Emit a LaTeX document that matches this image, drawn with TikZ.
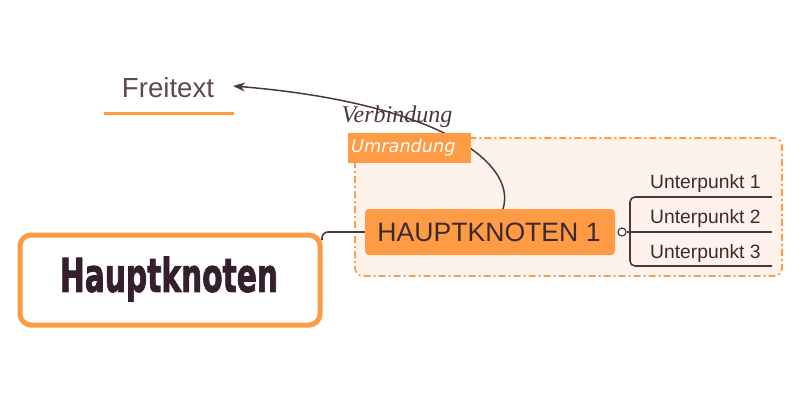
\documentclass[tikz,border=0pt]{standalone}
\usepackage{fontspec}
\setmainfont{Liberation Sans}
\newfontfamily\verbfont{Liberation Serif}
\newfontfamily\umrfont{DejaVu Sans}
\newfontfamily\bigfont{DejaVu Sans}[BoldFeatures={FakeBold=2}]
\usetikzlibrary{arrows.meta}
\definecolor{orng}{HTML}{FF9A45}
\definecolor{lightbg}{HTML}{FEF3EA}
\definecolor{txt}{HTML}{3B2A30}
\definecolor{hktxt}{HTML}{33202C}
\definecolor{txtb}{HTML}{5B4A50}
\definecolor{lin}{HTML}{4A3840}
\tikzset{
  subtxt/.style={font=\fontsize{19.3}{21}\selectfont, text=txt, inner sep=0pt},
  branch/.style={draw=lin, line width=1.6pt},
}
\begin{document}
\begin{tikzpicture}[x=1pt,y=-1pt]
\useasboundingbox (0,0) rectangle (800,400);
% Umrandung boundary
\draw[orng, line width=1.6pt, fill=lightbg, rounded corners=8pt, dash pattern=on 7pt off 3pt on 2pt off 3pt] (355,138) rectangle (782,276);
\coordinate (arrEnd) at (233,86);
% Hauptknoten 1
\node[fill=orng, rounded corners=4pt, minimum width=250pt, minimum height=46pt, inner sep=0pt] (hk1) at (490,232) {};
\node[text=txt, font=\fontsize{26.6}{30}\selectfont, inner sep=0pt] (hk1t) at (489,232) {HAUPTKNOTEN 1};
% Verbindung connector (under label)
\draw[lin, line width=1.5pt, -{Stealth[length=12pt,width=9pt]}] (503,209) .. controls (518,160) and (430,102) .. (arrEnd);
\node[fill=orng, minimum width=123pt, minimum height=30pt, anchor=north west, inner sep=0pt] (umr) at (348,133) {};
\node[text=white, font=\umrfont\itshape\fontsize{17.7}{19}\selectfont, anchor=west, inner sep=0pt] (umrt) at (351,148) {Umrandung};
% Freitext
\node[text=txtb, font=\fontsize{27.6}{30}\selectfont, inner sep=0pt] (frei) at (168,88) {Freitext};
\draw[orng, line width=3pt] (104,113) -- (234,113);
\node[text=lin, font=\verbfont\itshape\fontsize{24}{26}\selectfont, inner sep=0pt] (verb) at (397,117) {Verbindung};
% Hauptknoten
\node[draw=orng, line width=5pt, fill=white, rounded corners=11pt, minimum width=300pt, minimum height=90pt, inner sep=0pt] (hk) at (170,280) {};
\node[text=hktxt, inner sep=0pt] (hkt) at (169,279) {\resizebox*{218pt}{45pt}{\bigfont\bfseries Hauptknoten}};
% connector main
\draw[lin, line width=1.6pt, rounded corners=6pt] (322,240) |- (hk1.west);
% branches
\node[draw=lin, line width=1.2pt, fill=white, circle, minimum size=8pt, inner sep=0pt] (c) at (622,232) {};
\coordinate (b1) at (772,197);
\coordinate (b2) at (772,232);
\coordinate (b3) at (772,266);
\draw[branch] (c.east) -- (b2);
\draw[branch, rounded corners=5pt] (b1) -- (630,197) -- (630,266) -- (b3);
\node[subtxt, anchor=west] (u1) at (650,184) {Unterpunkt 1};
\node[subtxt, anchor=west] (u2) at (650,219) {Unterpunkt 2};
\node[subtxt, anchor=west] (u3) at (650,254) {Unterpunkt 3};
\end{tikzpicture}
\end{document}
